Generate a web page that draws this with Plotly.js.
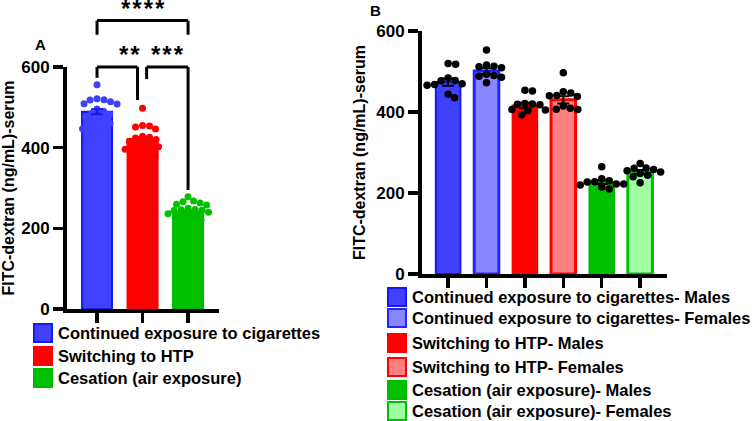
<!DOCTYPE html>
<html><head><meta charset="utf-8">
<script src="https://cdn.plot.ly/plotly-3.0.1.min.js"></script>
<style>html,body{margin:0;padding:0;background:#fff;} #chart{width:756px;height:421px;}</style>
</head><body><div id="chart"></div>
<script>
// ---------- Panel A data ----------
const groupsA = ['Continued exposure to cigarettes', 'Switching to HTP', 'Cesation (air exposure)'];
const meansA = [489, 421, 241];
const semA = [6, 5, 3];
const pointsA_cig = [556, 521, 519, 518, 514, 509, 508, 496, 490, 476, 478, 470, 461, 463, 458, 447, 432, 485, 482, 452];
const pointsA_htp = [498, 451, 446, 454, 455, 428, 424, 420, 412, 402, 392, 385, 378, 405, 396, 408, 416, 388, 426, 400];
const pointsA_air = [278, 268, 260, 258, 263, 266, 247, 246, 244, 245, 236, 228, 220, 212, 205, 232, 240, 224, 216, 250];
const yTicks = [0, 200, 400, 600];
const yTitle = 'FITC-dextran (ng/mL)-serum';

// significance comparisons (group indices) and labels
const compFrom = [0, 1, 0];
const compTo = [1, 2, 2];
const compLabel = ['**', '***', '****'];

// ---------- Panel B data ----------
const groupsB = [
  'Continued exposure to cigarettes- Males', 'Continued exposure to cigarettes- Females',
  'Switching to HTP- Males', 'Switching to HTP- Females',
  'Cesation (air exposure)- Males', 'Cesation (air exposure)- Females'];
const meansB = [474, 501, 416, 430, 227, 252];
const semB = [9, 7, 7, 9, 5, 5];
const pointsB_cigM = [520, 518, 477, 478, 468, 466, 470, 484, 444, 435];
const pointsB_cigF = [553, 516, 512, 509, 513, 490, 488, 486, 493, 472];
const pointsB_htpM = [454, 452, 421, 420, 419, 418, 406, 405, 404, 393];
const pointsB_htpF = [497, 450, 447, 440, 438, 441, 415, 407, 409, 406];
const pointsB_airM = [265, 222, 210, 227, 235, 230, 222, 215, 220, 228];
const pointsB_airF = [273, 262, 261, 258, 248, 244, 240, 252, 255, 225];

// ---------- styling ----------
const W = 756, H = 421;
const FONT = 'Arial, "Liberation Sans", sans-serif';
const FS = 17, FL = 16.5;
const A = {l: 67, r: 219, t: 67, b: 309, xr: [-0.66, 2.68], yr: [0, 600]};
const B = {l: 422, r: 667, t: 31, b: 274, xr: [-0.68, 5.70], yr: [0, 600]};
const fillA = ['rgb(64,64,255)', 'rgb(255,0,0)', 'rgb(0,192,0)'];
const edgeA = ['rgb(25,25,235)', 'rgb(255,0,0)', 'rgb(0,185,0)'];
const fillB = ['rgb(64,64,255)', 'rgb(135,135,255)', 'rgb(255,0,0)', 'rgb(255,128,128)', 'rgb(0,192,0)', 'rgb(160,255,160)'];
const edgeB = ['rgb(25,25,235)', 'rgb(35,35,255)', 'rgb(255,0,0)', 'rgb(255,0,0)', 'rgb(0,185,0)', 'rgb(0,192,0)'];

function pxX(P) { return (P.r - P.l) / (P.xr[1] - P.xr[0]); }
function pxY(P) { return (P.b - P.t) / (P.yr[1] - P.yr[0]); }

// beeswarm placement (pixel-space collision check)
function swarm(vals, center, P, d) {
  const sx = pxX(P), sy = pxY(P);
  const order = vals.map((v, i) => i).sort((a, b) => vals[b] - vals[a]);
  const placed = [];
  const xs = new Array(vals.length);
  order.forEach(i => {
    const y = vals[i] * sy;
    for (let k = 0; k < 400; k++) {
      const off = (k % 2 === 1 ? 1 : -1) * Math.ceil(k / 2) * 0.5;
      if (placed.every(p => (p.x - off) ** 2 + (p.y - y) ** 2 >= d * d)) {
        placed.push({x: off, y: y});
        xs[i] = center + off / sx;
        break;
      }
    }
  });
  return xs;
}

const traces = [];
// Panel A bars
traces.push({
  type: 'bar', x: [0, 1, 2], y: meansA, width: 0.66, xaxis: 'x', yaxis: 'y',
  marker: {color: fillA, line: {color: edgeA, width: 2}}, showlegend: false, hoverinfo: 'skip'
});
const ptsA = [pointsA_cig, pointsA_htp, pointsA_air];
ptsA.forEach((vals, g) => {
  traces.push({
    type: 'scatter', mode: 'markers', x: swarm(vals, g, A, 6.8), y: vals, xaxis: 'x', yaxis: 'y',
    marker: {size: 7, color: fillA[g]}, showlegend: false, cliponaxis: false, hoverinfo: 'skip'
  });
  traces.push({
    type: 'scatter', mode: 'markers', x: [g], y: [meansA[g]], xaxis: 'x', yaxis: 'y',
    marker: {size: 0.1, color: 'rgba(0,0,0,0)'},
    error_y: {type: 'data', array: [semA[g]], color: edgeA[g], thickness: 2, width: 6},
    showlegend: false, hoverinfo: 'skip'
  });
});

// Panel B bars
traces.push({
  type: 'bar', x: [0, 1, 2, 3, 4, 5], y: meansB, width: 0.64, xaxis: 'x2', yaxis: 'y2',
  marker: {color: fillB, line: {color: edgeB, width: [2, 3, 2, 3, 2, 3]}}, showlegend: false, hoverinfo: 'skip'
});
traces.push({
  type: 'scatter', mode: 'markers', x: [0, 1, 2, 3, 4, 5], y: meansB, xaxis: 'x2', yaxis: 'y2',
  marker: {size: 0.1, color: 'rgba(0,0,0,0)'},
  error_y: {type: 'data', array: semB, color: '#000', thickness: 2, width: 6},
  showlegend: false, hoverinfo: 'skip'
});
const ptsB = [pointsB_cigM, pointsB_cigF, pointsB_htpM, pointsB_htpF, pointsB_airM, pointsB_airF];
ptsB.forEach((vals, g) => {
  traces.push({
    type: 'scatter', mode: 'markers', x: swarm(vals, g, B, 7.4), y: vals, xaxis: 'x2', yaxis: 'y2',
    marker: {size: 7.5, color: '#000'}, showlegend: false, cliponaxis: false, hoverinfo: 'skip'
  });
});

// ---------- brackets ----------
function fx(P, x) { return (x - P.xr[0]) / (P.xr[1] - P.xr[0]); }
function fy(P, y) { return (y - P.yr[0]) / (P.yr[1] - P.yr[0]); }
const shapes = [], annotations = [];
const bracketTop = [600, 600, 715];
const dropFrom = [573, 570, 680];
const dropTo = [518, 295, 680];
const shiftFrom = [0, 0.09, 0];
const shiftTo = [-0.11, 0, 0];
const line = {color: '#000', width: 3};
compFrom.forEach((a, i) => {
  const b = compTo[i];
  const x1 = fx(A, a + shiftFrom[i]), x2 = fx(A, b + shiftTo[i]);
  const yt = fy(A, bracketTop[i]);
  shapes.push({type: 'line', xref: 'x domain', yref: 'y domain', x0: x1, x1: x1, y0: fy(A, dropFrom[i]), y1: yt, line: line});
  shapes.push({type: 'line', xref: 'x domain', yref: 'y domain', x0: x1, x1: x2, y0: yt, y1: yt, line: line});
  shapes.push({type: 'line', xref: 'x domain', yref: 'y domain', x0: x2, x1: x2, y0: yt, y1: fy(A, dropTo[i]), line: line});
  annotations.push({
    xref: 'x domain', yref: 'y domain', x: (x1 + x2) / 2, y: yt, yanchor: 'bottom', yshift: -3,
    text: compLabel[i].split('').join('\u200a'), showarrow: false,
    font: {family: FONT, size: 24, color: '#000', weight: 'bold'}
  });
});

// panel letters
annotations.push({xref: 'paper', yref: 'paper', x: 40 / W, y: 1 - 44 / H, xanchor: 'center', yanchor: 'middle',
  text: 'A', showarrow: false, font: {family: FONT, size: 15, weight: 'bold', color: '#000'}});
annotations.push({xref: 'paper', yref: 'paper', x: 375 / W, y: 1 - 11 / H, xanchor: 'center', yanchor: 'middle',
  text: 'B', showarrow: false, font: {family: FONT, size: 15, weight: 'bold', color: '#000'}});

// ---------- legends ----------
function legendItem(xl, yc, fill, edge, label, sz) {
  shapes.push({type: 'rect', xref: 'paper', yref: 'paper', x0: xl / W, x1: (xl + sz) / W,
    y0: 1 - (yc + sz / 2) / H, y1: 1 - (yc - sz / 2) / H, fillcolor: fill, line: {color: edge, width: 2}});
  annotations.push({xref: 'paper', yref: 'paper', x: (xl + sz + 4) / W, y: 1 - yc / H, xanchor: 'left', yanchor: 'middle',
    text: label, showarrow: false, font: {family: FONT, size: FL, weight: 'bold', color: '#000'}});
}
const legARows = [333, 356, 378];
groupsA.forEach((g, i) => legendItem(34, legARows[i], fillA[i], edgeA[i], g, 18));
const legBRows = [297, 318, 343, 367, 390, 411];
groupsB.forEach((g, i) => legendItem(388, legBRows[i], fillB[i], edgeB[i], g, 18));

// ---------- axes ----------
function yAx(P, anchor) {
  return {
    domain: [1 - P.b / H, 1 - P.t / H], range: P.yr, anchor: anchor,
    tickvals: yTicks, ticks: 'outside', ticklen: 10, tickwidth: 3.5, tickcolor: '#000',
    showline: true, linewidth: 4, linecolor: '#000', showgrid: false, zeroline: false,
    tickfont: {family: FONT, size: FS, weight: 'bold', color: '#000'},
    title: {text: yTitle, font: {family: FONT, size: 16, weight: 'bold', color: '#000'}, standoff: 8}
  };
}
function xAx(P, n, anchor) {
  return {
    domain: [P.l / W, P.r / W], range: P.xr, anchor: anchor,
    tickvals: Array.from({length: n}, (_, i) => i), showticklabels: false,
    ticks: 'outside', ticklen: 10, tickwidth: 3.5, tickcolor: '#000',
    showline: true, linewidth: 4, linecolor: '#000', showgrid: false, zeroline: false
  };
}

const layout = {
  width: W, height: H, margin: {l: 0, r: 0, t: 0, b: 0},
  paper_bgcolor: '#fff', plot_bgcolor: '#fff', showlegend: false,
  xaxis: xAx(A, 3, 'y'), yaxis: yAx(A, 'x'),
  xaxis2: xAx(B, 6, 'y2'), yaxis2: yAx(B, 'x2'),
  shapes: shapes, annotations: annotations, bargap: 0
};
Plotly.newPlot('chart', traces, layout, {staticPlot: true});
</script></body></html>
